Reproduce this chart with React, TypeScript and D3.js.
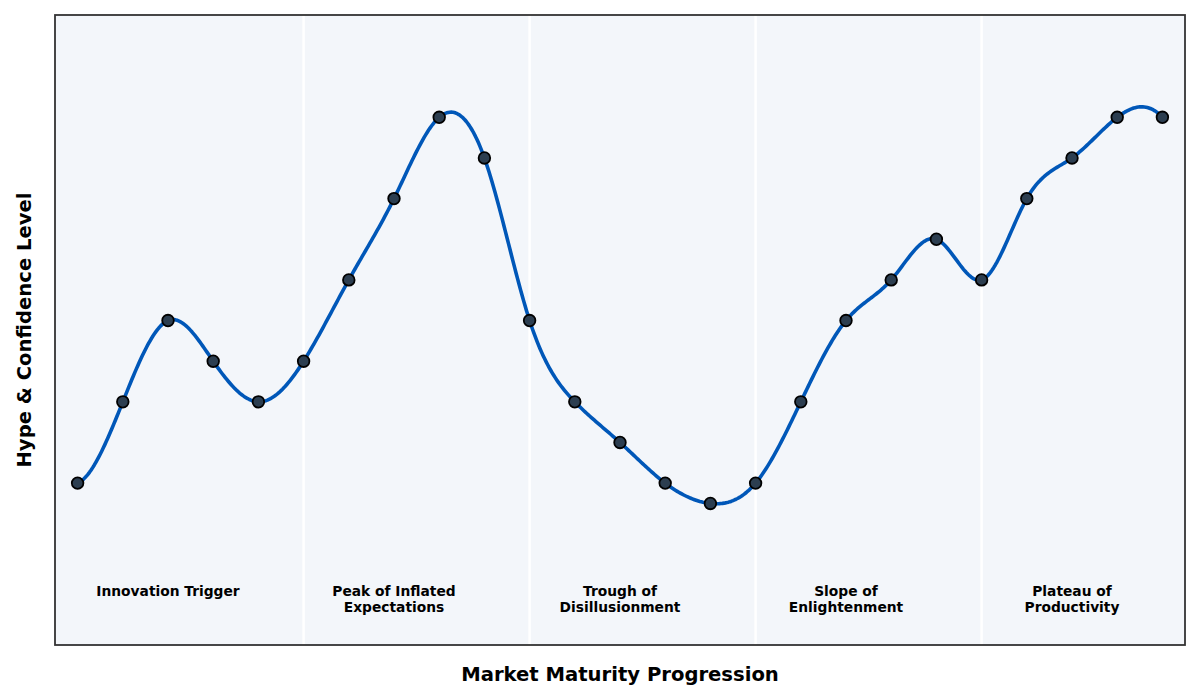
import React from "react";
import * as d3 from "d3";

const xIdx = d3.range(25);
const hype = [2, 4, 6, 5, 4, 5, 7, 9, 11, 10, 6, 4, 3, 2, 1.5, 2, 4, 6, 7, 8, 7, 9, 10, 11, 11];
const phaseBounds = [5, 10, 15, 20];
const phaseLabels = [
  { at: 2, lines: ["Innovation Trigger"] },
  { at: 7, lines: ["Peak of Inflated", "Expectations"] },
  { at: 12, lines: ["Trough of", "Disillusionment"] },
  { at: 17, lines: ["Slope of", "Enlightenment"] },
  { at: 22, lines: ["Plateau of", "Productivity"] },
];

// not-a-knot cubic spline (equal spacing)
function spline(ys: number[]) {
  const n = ys.length;
  const A: number[][] = Array.from({ length: n }, () => new Array(n).fill(0));
  const b = new Array(n).fill(0);
  A[0][0] = 1; A[0][1] = -2; A[0][2] = 1;
  A[n - 1][n - 3] = 1; A[n - 1][n - 2] = -2; A[n - 1][n - 1] = 1;
  for (let i = 1; i < n - 1; i++) {
    A[i][i - 1] = 1; A[i][i] = 4; A[i][i + 1] = 1;
    b[i] = 6 * (ys[i - 1] - 2 * ys[i] + ys[i + 1]);
  }
  for (let c = 0; c < n; c++) {
    let p = c;
    for (let r = c + 1; r < n; r++) if (Math.abs(A[r][c]) > Math.abs(A[p][c])) p = r;
    [A[c], A[p]] = [A[p], A[c]];
    [b[c], b[p]] = [b[p], b[c]];
    for (let r = c + 1; r < n; r++) {
      const f = A[r][c] / A[c][c];
      for (let k = c; k < n; k++) A[r][k] -= f * A[c][k];
      b[r] -= f * b[c];
    }
  }
  const M = new Array(n).fill(0);
  for (let r = n - 1; r >= 0; r--) {
    let s = b[r];
    for (let k = r + 1; k < n; k++) s -= A[r][k] * M[k];
    M[r] = s / A[r][r];
  }
  const pts: [number, number][] = [];
  const steps = 30;
  for (let i = 0; i < n - 1; i++) {
    for (let s = 0; s < steps; s++) {
      const t = s / steps;
      const a = 1 - t;
      const v = a * ys[i] + t * ys[i + 1] + ((a * a * a - a) * M[i] + (t * t * t - t) * M[i + 1]) / 6;
      pts.push([i + t, v]);
    }
  }
  pts.push([n - 1, ys[n - 1]]);
  return pts;
}

export default function App() {
  const W = 1200, H = 700;
  const L = 55, R = 1185, T = 15, B = 645;
  const x = d3.scaleLinear().domain([-0.5, 24.5]).range([L, R]);
  const y = d3.scaleLinear().domain([-2, 13.5]).range([B + 0.7, T + 0.7]);
  const curve = spline(hype);
  const line = d3.line<[number, number]>().x((d) => x(d[0])).y((d) => y(d[1]));
  const font = "'DejaVu Sans', sans-serif";
  return (
    <svg width={W} height={H} style={{ display: "block", position: "absolute", left: 0, top: 0 }} fontFamily={font}>
      <rect x={0} y={0} width={W} height={H} fill="#ffffff" />
      <rect x={L} y={T} width={R - L} height={B - T} fill="#f3f6fa" />
      {phaseBounds.map((p) => (
        <line key={p} x1={x(p)} x2={x(p)} y1={T} y2={B} stroke="#ffffff" strokeWidth={2.5} />
      ))}
      {phaseLabels.map((pl) => (
        <text key={pl.at} x={x(pl.at)} y={584} textAnchor="middle" fontSize={13.8} fontWeight="bold" fill="#000">
          {pl.lines.map((ln, i) => (
            <tspan key={i} x={x(pl.at)} dy={i === 0 ? 12 : 15.5}>{ln}</tspan>
          ))}
        </text>
      ))}
      <path d={line(curve) || ""} fill="none" stroke="#0057b8" strokeWidth={3.6} strokeLinejoin="round" />
      {xIdx.map((i) => (
        <circle key={i} cx={x(i)} cy={y(hype[i])} r={5.8} fill="#2c3e50" stroke="#000" strokeWidth={1.8} />
      ))}
      <rect x={L} y={T} width={R - L} height={B - T} fill="none" stroke="#333333" strokeWidth={1.8} />
      <text x={(L + R) / 2} y={681} textAnchor="middle" fontSize={19.6} fontWeight="bold">Market Maturity Progression</text>
      <text transform={`translate(31,${(T + B) / 2}) rotate(-90)`} textAnchor="middle" fontSize={19.6} fontWeight="bold">Hype &amp; Confidence Level</text>
    </svg>
  );
}
